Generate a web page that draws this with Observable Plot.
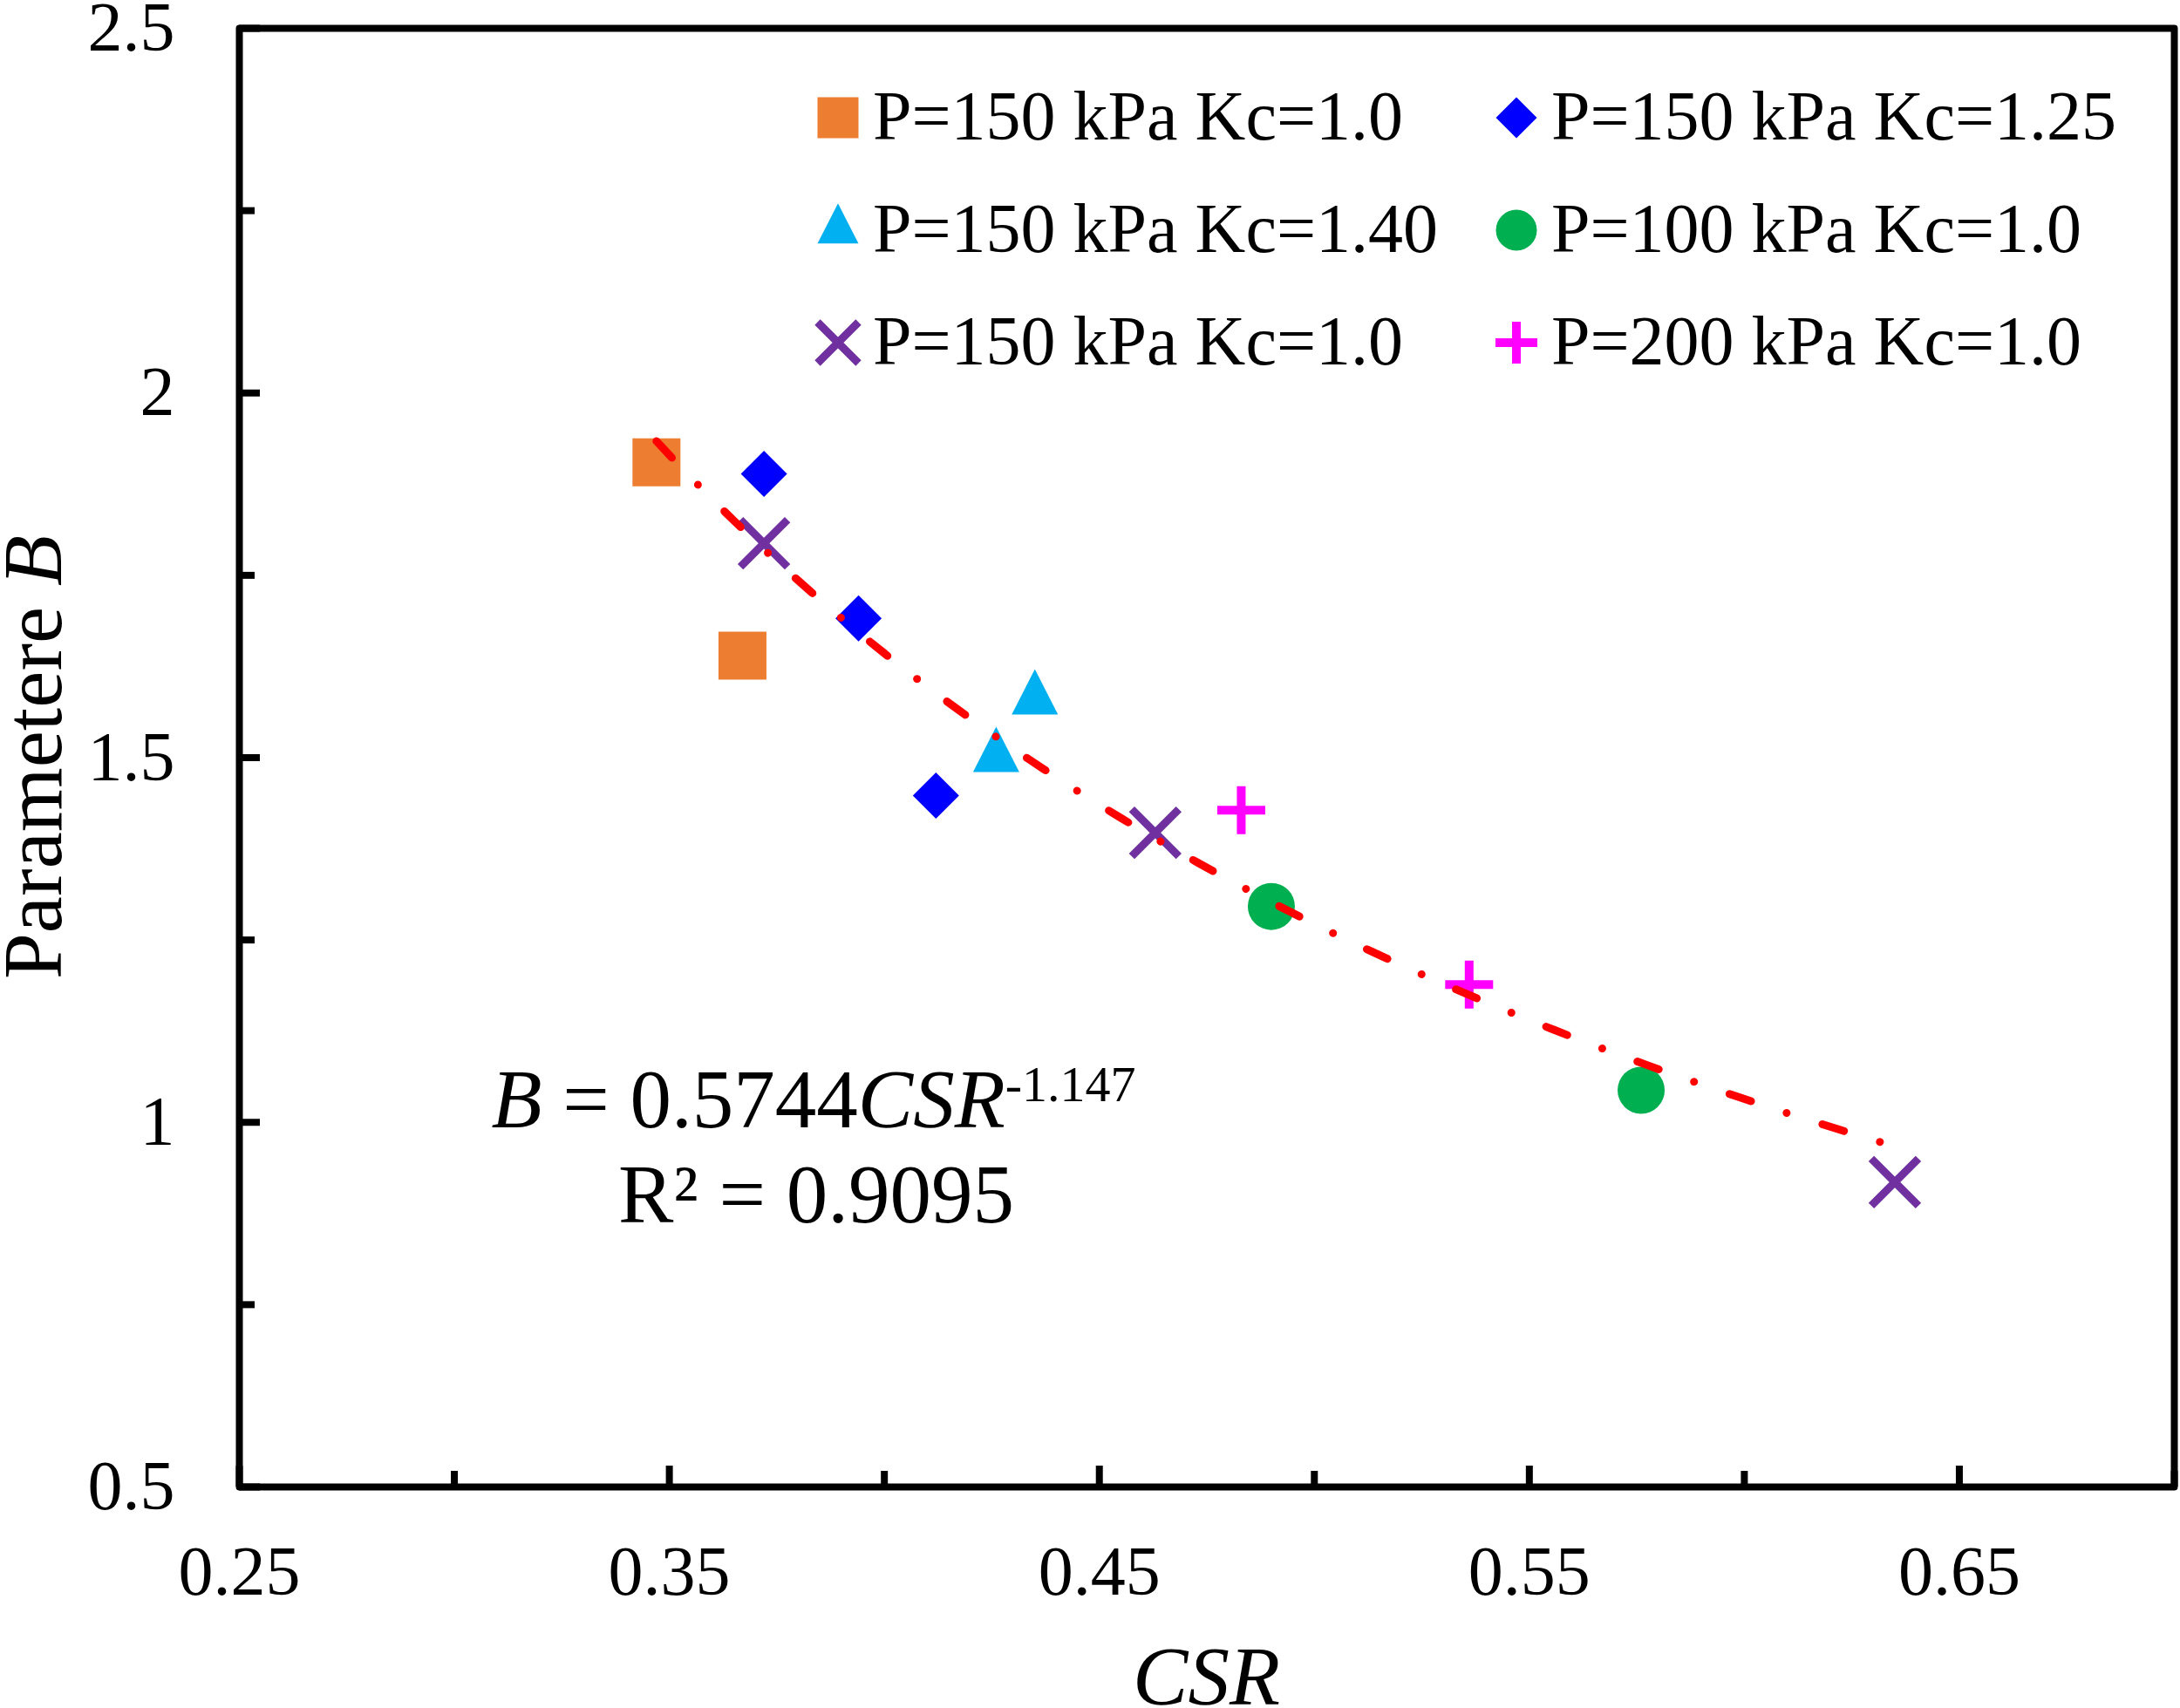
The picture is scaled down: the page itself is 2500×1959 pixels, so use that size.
<!DOCTYPE html>
<html>
<head>
<meta charset="utf-8">
<script src="https://cdn.jsdelivr.net/npm/d3@7"></script>
<script src="https://cdn.jsdelivr.net/npm/@observablehq/plot@0.6"></script>
<style>
  html, body { margin: 0; padding: 0; background: #ffffff; }
  #chart svg { display: block; }
</style>
</head>
<body>
<div id="chart"></div>
<script>
// ---------------- data ----------------
const seriesLabels = [
  "P=150 kPa Kc=1.0",   // orange squares
  "P=150 kPa Kc=1.25",  // blue diamonds
  "P=150 kPa Kc=1.40",  // cyan triangles
  "P=100 kPa Kc=1.0",   // green circles
  "P=150 kPa Kc=1.0",   // purple crosses
  "P=200 kPa Kc=1.0"    // magenta plus
];
const squareCSR   = [0.347, 0.367];
const squareB     = [1.905, 1.640];
const diamondCSR  = [0.372, 0.394, 0.412];
const diamondB    = [1.889, 1.691, 1.448];
const triangleCSR = [0.435, 0.426];
const triangleB   = [1.580, 1.501];
const circleCSR   = [0.490, 0.576];
const circleB     = [1.296, 1.044];
const crossCSR    = [0.372, 0.463, 0.635];
const crossB      = [1.794, 1.397, 0.918];
const plusCSR     = [0.483, 0.536];
const plusB       = [1.428, 1.189];

// power fit shown on the chart: B = 0.5744 CSR^-1.147, R² = 0.9095
const fitCoef = 0.5744;
const fitExp = -1.147;
const fitR2 = "0.9095";

const xMajorTicks = [0.25, 0.35, 0.45, 0.55, 0.65];
const xMinorTicks = [0.30, 0.40, 0.50, 0.60, 0.70];
const yMajorTicks = [0.5, 1, 1.5, 2, 2.5];
const yMinorTicks = [0.75, 1.25, 1.75, 2.25];

// ---------------- helpers ----------------
const pts = (xs, ys) => xs.map((x, i) => ({x, y: ys[i]}));
const allX = [].concat(squareCSR, diamondCSR, triangleCSR, circleCSR, crossCSR, plusCSR);
const x0 = d3.min(allX), x1 = d3.max(allX);
const fitData = d3.range(0, 81).map(i => {
  const x = x0 + (x1 - x0) * i / 80;
  return {x, y: fitCoef * Math.pow(x, fitExp)};
});

// custom marker shapes (size -> half extent r)
const half = size => Math.sqrt(size / Math.PI);
const symSquare = {draw(c, s) { const r = half(s); c.moveTo(-r, -r); c.lineTo(r, -r); c.lineTo(r, r); c.lineTo(-r, r); c.closePath(); }};
const symDiamond = {draw(c, s) { const r = half(s); c.moveTo(0, -r); c.lineTo(r, 0); c.lineTo(0, r); c.lineTo(-r, 0); c.closePath(); }};
const symTriangle = {draw(c, s) { const r = half(s); const h = 1.96 * r; c.moveTo(0, -2 * h / 3); c.lineTo(r, h / 3); c.lineTo(-r, h / 3); c.closePath(); }};
const symCircle = {draw(c, s) { const r = half(s); c.moveTo(r, 0); c.arc(0, 0, r, 0, 2 * Math.PI); c.closePath(); }};
const symTimes = {draw(c, s) { const r = half(s); c.moveTo(-r, -r); c.lineTo(r, r); c.moveTo(r, -r); c.lineTo(-r, r); }};
const symPlus = {draw(c, s) { const r = half(s); c.moveTo(-r, 0); c.lineTo(r, 0); c.moveTo(0, -r); c.lineTo(0, r); }};

const W = 2500, H = 1959;
const mL = 274, mR = 7, mT = 32, mB = 254;
const FW = W - mL - mR, FH = H - mT - mB;
const FONT = "'Liberation Serif', 'Times New Roman', Times, serif";

const C = {
  orange: "#ED7D31", blue: "#0000FF", cyan: "#00B0F0",
  green: "#00B050", purple: "#7030A0", magenta: "#FF00FF", red: "#FF0000"
};

const chart = Plot.plot({
  width: W,
  height: H,
  marginLeft: mL, marginRight: mR, marginTop: mT, marginBottom: mB,
  style: {fontFamily: FONT, fontSize: "80px", background: "#ffffff", color: "#000000"},
  x: {domain: [0.25, 0.70], axis: null},
  y: {domain: [0.5, 2.5], axis: null},
  marks: [
    // inward ticks
    Plot.tickX(xMajorTicks, {x: d => d, insetTop: FH - 24, stroke: "#000", strokeWidth: 8}),
    Plot.tickX(xMinorTicks, {x: d => d, insetTop: FH - 18, stroke: "#000", strokeWidth: 8}),
    Plot.tickY(yMajorTicks, {y: d => d, insetRight: FW - 24, stroke: "#000", strokeWidth: 8}),
    Plot.tickY(yMinorTicks, {y: d => d, insetRight: FW - 18, stroke: "#000", strokeWidth: 8}),
    Plot.frame({stroke: "#000", strokeWidth: 8, strokeLinejoin: "round"}),
    // tick labels
    Plot.text(xMajorTicks, {x: d => d, text: d => d.toFixed(2), frameAnchor: "bottom", dy: 123, lineAnchor: "bottom", fontSize: 80}),
    Plot.text(yMajorTicks, {y: d => d, text: d => String(d), frameAnchor: "left", textAnchor: "end", dx: -74, lineAnchor: "middle", fontSize: 80}),
    // data
    Plot.dot(pts(squareCSR, squareB), {x: "x", y: "y", symbol: symSquare, r: 27.5, fill: C.orange, stroke: "none"}),
    Plot.dot(pts(diamondCSR, diamondB), {x: "x", y: "y", symbol: symDiamond, r: 26.5, fill: C.blue, stroke: "none"}),
    Plot.dot(pts(triangleCSR, triangleB), {x: "x", y: "y", symbol: symTriangle, r: 26.5, fill: C.cyan, stroke: "none"}),
    Plot.dot(pts(circleCSR, circleB), {x: "x", y: "y", symbol: symCircle, r: 27, fill: C.green, stroke: "none"}),
    Plot.dot(pts(crossCSR, crossB), {x: "x", y: "y", symbol: symTimes, r: 27, fill: "none", stroke: C.purple, strokeWidth: 9, strokeLinecap: "butt"}),
    Plot.dot(pts(plusCSR, plusB), {x: "x", y: "y", symbol: symPlus, r: 27.5, fill: "none", stroke: C.magenta, strokeWidth: 10, strokeLinecap: "butt"}),
    // power trend line
    Plot.line(fitData, {x: "x", y: "y", stroke: C.red, strokeWidth: 9, strokeLinecap: "round", strokeDasharray: "26,43,0.01,43"})
  ]
});

document.getElementById("chart").appendChild(chart);

// ---------------- annotations: titles, equation, legend ----------------
const svg = d3.select(chart);
const g = svg.append("g").attr("font-family", FONT).attr("fill", "#000");

// y title
const yt = g.append("text")
  .attr("transform", `translate(70,${mT + FH / 2}) rotate(-90)`)
  .attr("text-anchor", "middle").attr("font-size", 95);
yt.append("tspan").text("Parametere ");
yt.append("tspan").attr("font-style", "italic").text("B");

// x title
g.append("text")
  .attr("x", mL + FW / 2).attr("y", 1955)
  .attr("text-anchor", "middle").attr("font-size", 95)
  .attr("font-style", "italic").text("CSR");

// equation
const eq = g.append("text")
  .attr("x", 933).attr("y", 1293)
  .attr("text-anchor", "middle").attr("font-size", 95)
  .style("white-space", "pre");
eq.append("tspan").attr("font-style", "italic").text("B");
eq.append("tspan").text(" = " + fitCoef);
eq.append("tspan").attr("font-style", "italic").text("CSR");
eq.append("tspan").attr("font-size", 58).attr("dy", -30).text(String(fitExp));

g.append("text")
  .attr("x", 936).attr("y", 1402)
  .attr("text-anchor", "middle").attr("font-size", 95)
  .style("white-space", "pre")
  .text("R\u00B2 = " + fitR2);

// legend
const legendItems = [
  {label: seriesLabels[0], sym: symSquare,   r: 23.5, fill: C.orange},
  {label: seriesLabels[1], sym: symDiamond,  r: 23.5, fill: C.blue},
  {label: seriesLabels[2], sym: symTriangle, r: 23.5, fill: C.cyan},
  {label: seriesLabels[3], sym: symCircle,   r: 23.5, fill: C.green},
  {label: seriesLabels[4], sym: symTimes,    r: 23.5, stroke: C.purple, sw: 9},
  {label: seriesLabels[5], sym: symPlus,     r: 24,   stroke: C.magenta, sw: 10}
];
const colMarkerX = [961, 1739];
const colTextX = [1001, 1779];
const rowBase = [160, 289, 418];
legendItems.forEach((it, i) => {
  const col = i % 2, row = Math.floor(i / 2);
  const path = d3.symbol(it.sym, Math.PI * it.r * it.r)();
  g.append("path")
    .attr("transform", `translate(${colMarkerX[col]},${rowBase[row] - 25})`)
    .attr("d", path)
    .attr("fill", it.fill || "none")
    .attr("stroke", it.stroke || "none")
    .attr("stroke-width", it.sw || 0);
  g.append("text")
    .attr("x", colTextX[col]).attr("y", rowBase[row])
    .attr("text-anchor", "start")
    .attr("font-size", 80)
    .text(it.label);
});
</script>
</body>
</html>
